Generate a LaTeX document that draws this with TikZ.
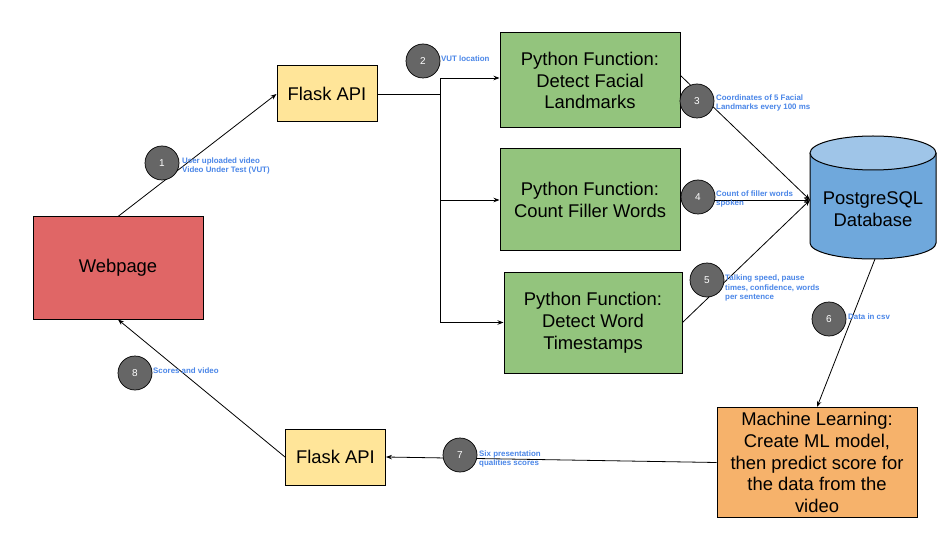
\documentclass[tikz,border=0pt]{standalone}
\usepackage{fontspec}
\setmainfont{Liberation Sans}
\usetikzlibrary{arrows.meta}
\definecolor{cgreen}{HTML}{93C47D}
\definecolor{cyellow}{HTML}{FFE599}
\definecolor{cred}{HTML}{E06666}
\definecolor{corange}{HTML}{F6B26B}
\definecolor{cblue}{HTML}{6FA8DC}
\definecolor{cblueT}{HTML}{9FC5E8}
\definecolor{cgrey}{HTML}{666666}
\definecolor{clbl}{HTML}{4A86E8}
\begin{document}
\begin{tikzpicture}[x=1pt,y=-1pt,
  box/.style={draw=black,line width=1pt,rectangle,inner sep=0pt,align=center,
    font=\fontsize{18.4}{21.8}\selectfont},
  conn/.style={draw=black,line width=0.8pt},
  arr/.style={conn,-{Stealth[length=6pt,width=4.5pt]}},
  circ/.style={circle,draw=black,line width=0.7pt,fill=cgrey,minimum size=34pt,inner sep=0pt,
    text=white,font=\fontsize{10}{12}\selectfont},
  lbl/.style={anchor=west,align=left,inner sep=0pt,text=clbl,
    font=\fontsize{7.9}{9.8}\selectfont\bfseries}]
\useasboundingbox (0,0) rectangle (947,537);
\fill[white] (0,0) rectangle (947,537);
% boxes
\node[box,fill=cred,minimum width=170pt,minimum height=102pt] (web) at (118,268) {Webpage};
\node[box,fill=cyellow,minimum width=100pt,minimum height=56pt] (fa1) at (327,94) {Flask API};
\node[box,fill=cyellow,minimum width=100pt,minimum height=56pt] (fa2) at (335.5,457) {Flask API};
\node[box,fill=cgreen,minimum width=180pt,minimum height=95pt] (py1) at (590,80.5) {Python Function:\\Detect Facial\\Landmarks};
\node[box,fill=cgreen,minimum width=180pt,minimum height=102pt] (py2) at (590,200) {Python Function:\\Count Filler Words};
\node[box,fill=cgreen,minimum width=178pt,minimum height=101pt] (py3) at (593,322.5) {Python Function:\\Detect Word\\Timestamps};
\node[box,fill=corange,minimum width=200pt,minimum height=110pt] (ml) at (817,462.5) {Machine Learning:\\Create ML model,\\then predict score for\\the data from the\\video};
% database cylinder
\path[draw=black,line width=1pt,fill=cblue] (810,153) -- (810,243) arc[start angle=180,end angle=0,x radius=63,y radius=16] -- (936,153);
\path[draw=black,line width=1pt,fill=cblueT] (873,153) ellipse[x radius=63,y radius=17];
\node[inner sep=0pt,align=center,font=\fontsize{18.4}{21.8}\selectfont] (db) at (873,209) {PostgreSQL\\Database};
\coordinate (dbin) at (810,200);
\coordinate (dbout) at (875,259);
\coordinate (j) at (440,94);
% connectors
\draw[arr] (web.north) -- (fa1.west);
\draw[arr] (fa1.east) -- (j) |- ([yshift=2.5pt]py1.west);
\draw[arr] (j) |- (py2.west);
\draw[arr] (j) |- (py3.west);
\draw[arr] ([yshift=5pt]py1.east) -- (dbin);
\draw[arr] (py2.east) -- (dbin);
\draw[arr] (py3.east) -- (dbin);
\draw[arr] (dbout) -- (ml.north);
\draw[arr] (ml.west) -- (fa2.east);
\draw[arr] (fa2.west) -- (web.south);
% step circles
\node[circ] (c1) at (162,163) {1};
\node[circ] (c2) at (423,61) {2};
\node[circ] (c3) at (697,101) {3};
\node[circ] (c4) at (698,197) {4};
\node[circ] (c5) at (707,280) {5};
\node[circ] (c6) at (829,319) {6};
\node[circ] (c7) at (460,455) {7};
\node[circ] (c8) at (135,373) {8};
% labels
\node[lbl] (l1) at (182,166) {User uploaded video\\Video Under Test (VUT)};
\node[lbl] (l2) at (441,59) {VUT location};
\node[lbl] (l3) at (716,103) {Coordinates of 5 Facial\\Landmarks every 100 ms};
\node[lbl] (l4) at (716,199) {Count of filler words\\spoken};
\node[lbl] (l5) at (725,288) {Talking speed, pause\\times, confidence, words\\per sentence};
\node[lbl] (l6) at (848,317) {Data in csv};
\node[lbl] (l7) at (479,459) {Six presentation\\qualities scores};
\node[lbl] (l8) at (153,371) {Scores and video};
\end{tikzpicture}
\end{document}
